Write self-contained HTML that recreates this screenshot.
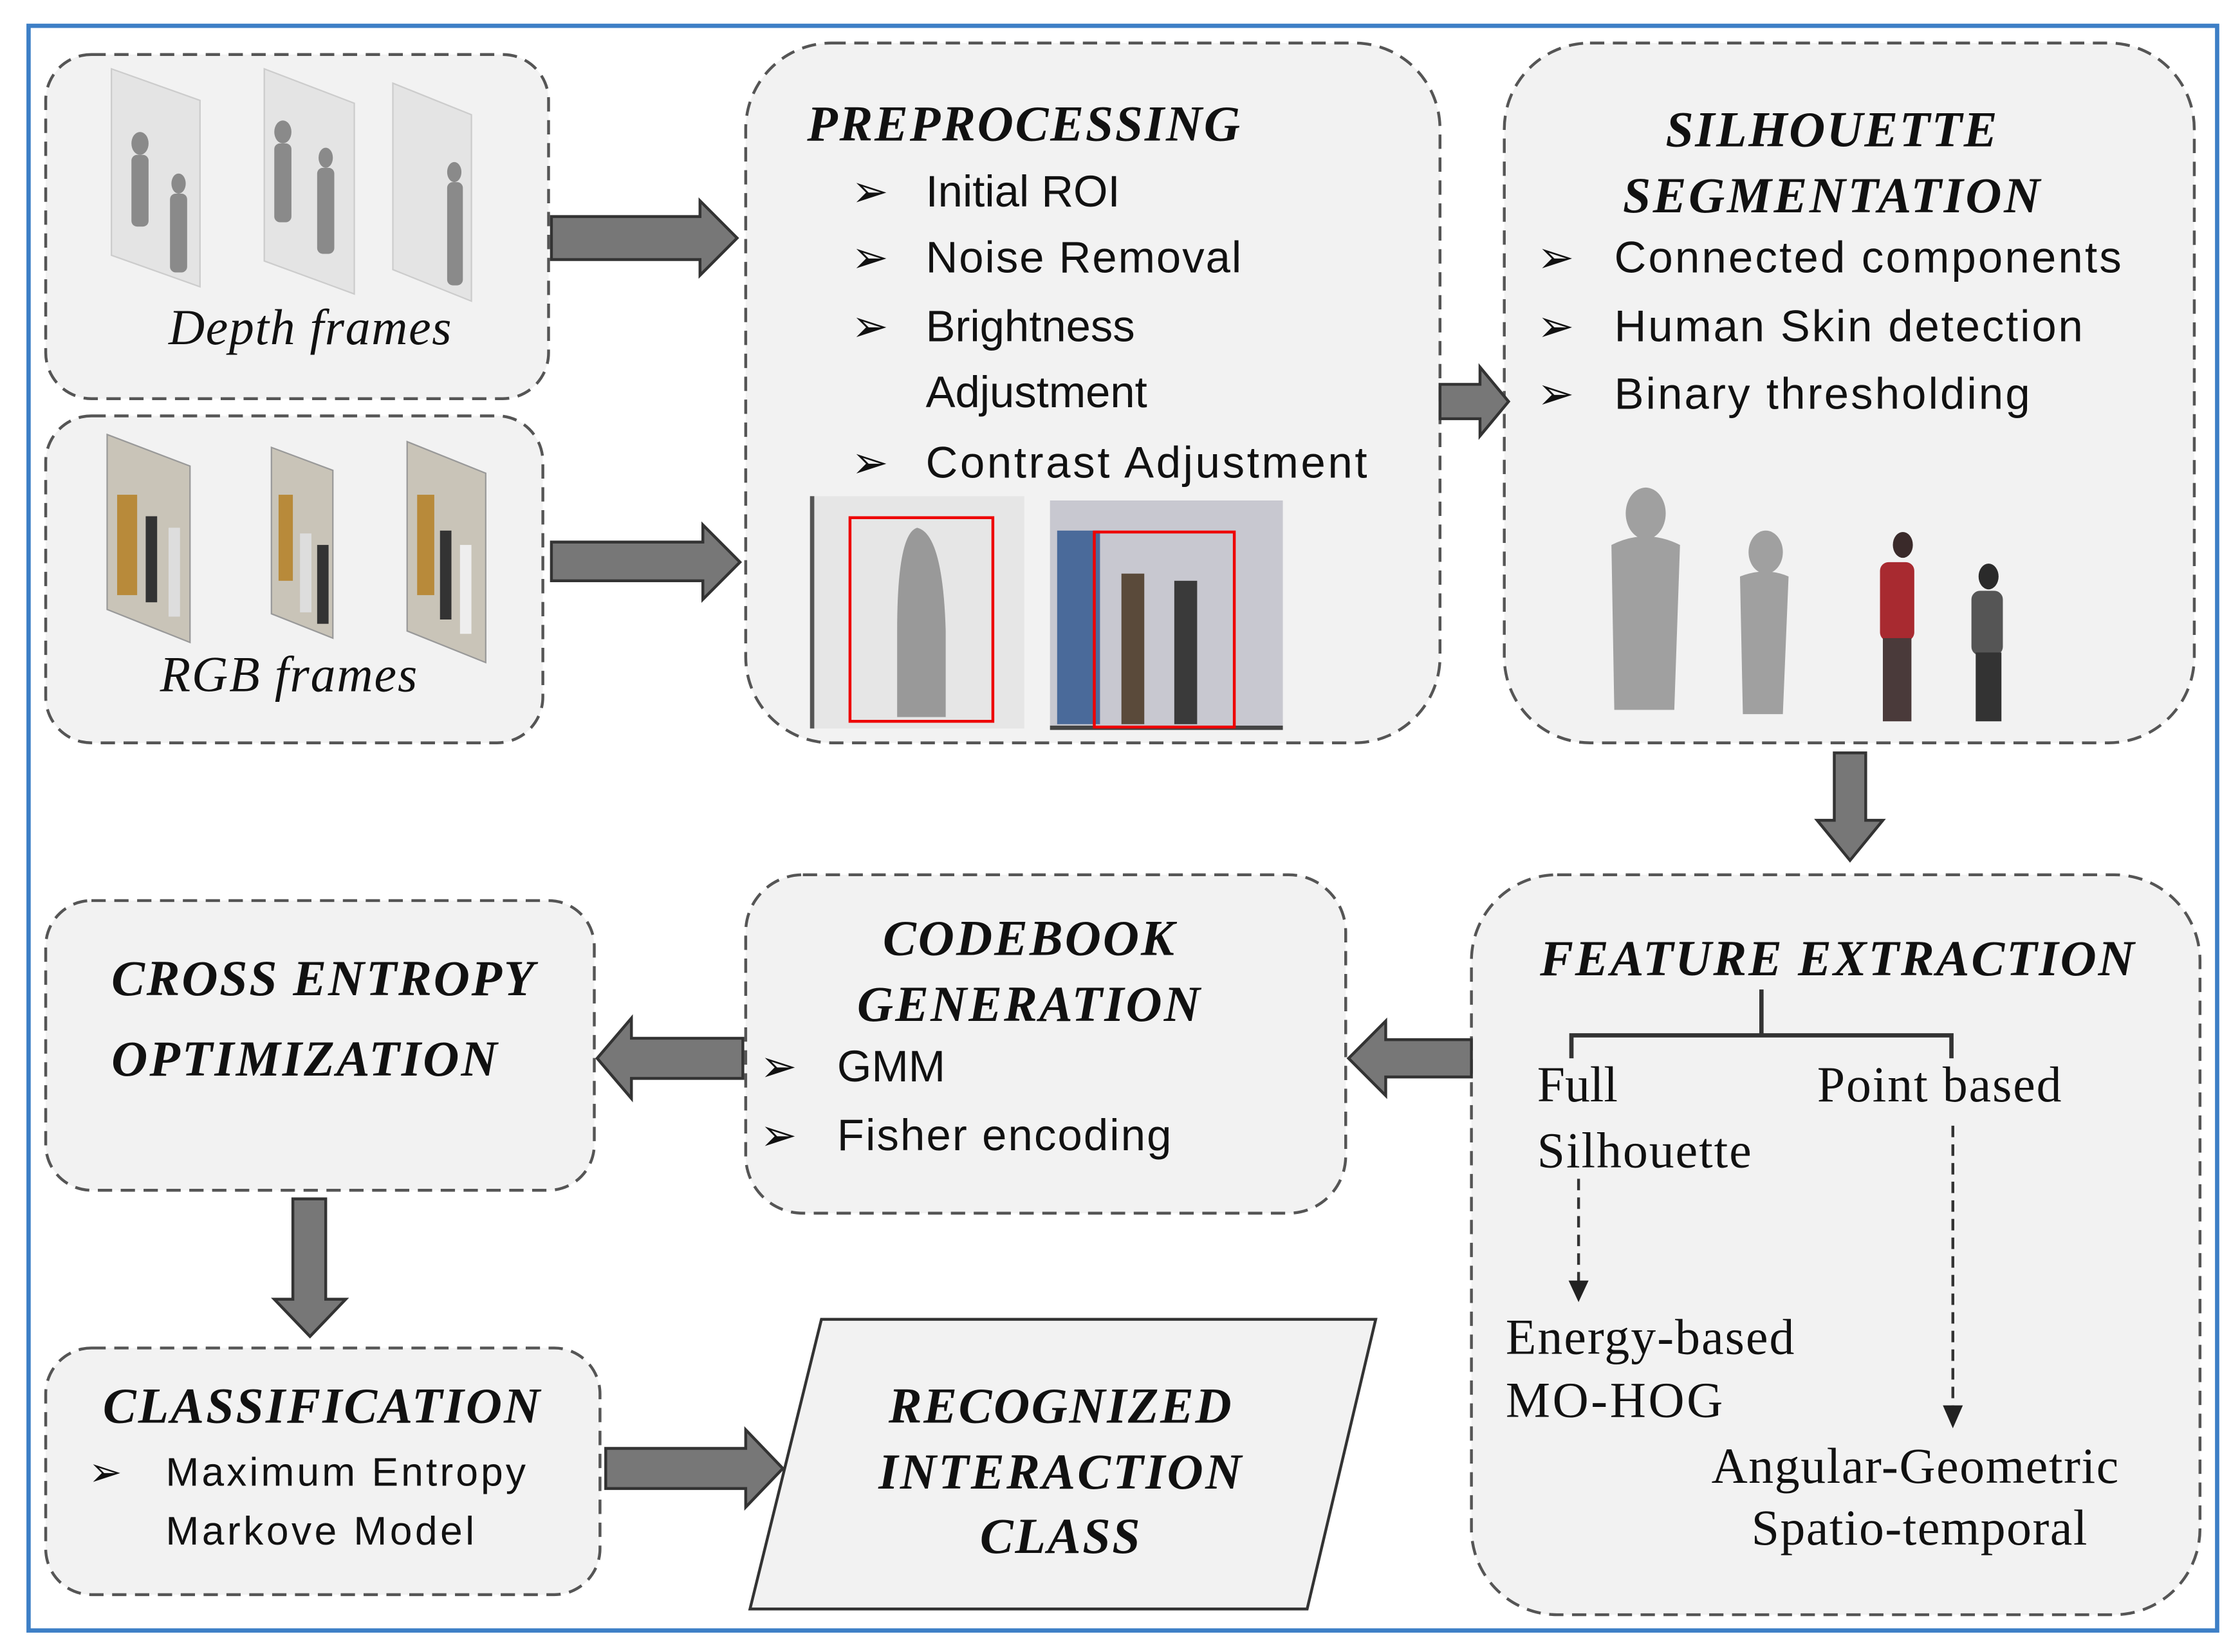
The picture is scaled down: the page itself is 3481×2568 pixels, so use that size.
<!DOCTYPE html>
<html><head><meta charset="utf-8"><style>
html,body{margin:0;padding:0;background:#fff;}
svg{display:block;}
.t{font-family:"Liberation Serif",serif;font-weight:bold;font-style:italic;font-size:35px;fill:#111;}
.b{font-family:"Liberation Sans",sans-serif;font-size:31px;fill:#111;}
.s{font-family:"Liberation Serif",serif;font-size:35px;fill:#111;}
.box{fill:#f2f2f2;stroke:#555;stroke-width:2;stroke-dasharray:10,6;}
.arr{fill:#777;stroke:#333;stroke-width:2;}
</style></head><body>
<svg width="3481" height="2568" viewBox="0 0 1568 1152" preserveAspectRatio="none" xmlns="http://www.w3.org/2000/svg">
<rect x="0" y="0" width="1568" height="1152" fill="#fff"/>
<rect x="20" y="18" width="1532" height="1119" fill="#fff" stroke="#3d7fc6" stroke-width="3"/>

<rect class="box" x="32" y="38" width="352" height="240" rx="32"/>
<rect class="box" x="32" y="290" width="348" height="228" rx="32"/>
<rect class="box" x="522" y="30" width="486" height="488" rx="60"/>
<rect class="box" x="1053" y="30" width="483" height="488" rx="60"/>
<rect class="box" x="1030" y="610" width="510" height="516" rx="60"/>
<rect class="box" x="522" y="610" width="420" height="236" rx="40"/>
<rect class="box" x="32" y="628" width="384" height="202" rx="32"/>
<rect class="box" x="32" y="940" width="388" height="172" rx="32"/>
<polygon points="575,920 963,920 915,1122 525,1122" fill="#f2f2f2" stroke="#333" stroke-width="2"/>

<g fill="#e4e4e4" stroke="#ccc">
<polygon points="78,48 140,70 140,200 78,178"/>
<polygon points="185,48 248,72 248,205 185,182"/>
<polygon points="275,58 330,80 330,210 275,188"/>
</g>
<g fill="#8a8a8a">
<ellipse cx="98" cy="100" rx="6" ry="8"/><rect x="92" y="108" width="12" height="50" rx="4"/>
<ellipse cx="125" cy="128" rx="5" ry="7"/><rect x="119" y="135" width="12" height="55" rx="4"/>
<ellipse cx="198" cy="92" rx="6" ry="8"/><rect x="192" y="100" width="12" height="55" rx="4"/>
<ellipse cx="228" cy="110" rx="5" ry="7"/><rect x="222" y="117" width="12" height="60" rx="4"/>
<ellipse cx="318" cy="120" rx="5" ry="7"/><rect x="313" y="127" width="11" height="72" rx="4"/>
</g>
<text class="s" x="118" y="240" font-style="italic" textLength="198">Depth frames</text>

<g>
<polygon points="75,303 133,325 133,448 75,425" fill="#c9c4b8" stroke="#999"/>
<rect x="82" y="345" width="14" height="70" fill="#b88a3a"/>
<rect x="102" y="360" width="8" height="60" fill="#333"/><rect x="118" y="368" width="8" height="62" fill="#ddd"/>
<polygon points="190,312 233,328 233,445 190,428" fill="#c9c4b8" stroke="#999"/>
<rect x="195" y="345" width="10" height="60" fill="#b88a3a"/>
<rect x="210" y="372" width="8" height="55" fill="#ddd"/><rect x="222" y="380" width="8" height="55" fill="#333"/>
<polygon points="285,308 340,330 340,462 285,440" fill="#c9c4b8" stroke="#999"/>
<rect x="292" y="345" width="12" height="70" fill="#b88a3a"/>
<rect x="308" y="370" width="8" height="62" fill="#333"/><rect x="322" y="380" width="8" height="62" fill="#eee"/>
</g>
<text class="s" x="112" y="482" font-style="italic" textLength="180">RGB frames</text>

<text class="t" x="565" y="98" textLength="303">PREPROCESSING</text>
<g class="b">
<text x="596" y="144">➢</text><text x="648" y="144">Initial ROI</text>
<text x="596" y="190">➢</text><text x="648" y="190" textLength="221">Noise Removal</text>
<text x="596" y="238">➢</text><text x="648" y="238">Brightness</text>
<text x="648" y="284">Adjustment</text>
<text x="596" y="333">➢</text><text x="648" y="333" textLength="309">Contrast Adjustment</text>
</g>
<rect x="567" y="346" width="150" height="162" fill="#e6e6e6"/>
<rect x="567" y="346" width="3" height="162" fill="#555"/>
<path d="M628,440 Q628,372 642,368 Q660,372 662,440 L662,500 L628,500Z" fill="#999"/>
<rect x="595" y="361" width="100" height="142" fill="none" stroke="#e00" stroke-width="2"/>
<rect x="735" y="349" width="163" height="160" fill="#c8c8d0"/>
<rect x="740" y="370" width="30" height="135" fill="#4a6a9a"/>
<rect x="785" y="400" width="16" height="105" fill="#5a4a3a"/>
<rect x="822" y="405" width="16" height="100" fill="#3a3a3a"/>
<rect x="735" y="506" width="163" height="3" fill="#444"/>
<rect x="766" y="371" width="98" height="136" fill="none" stroke="#e00" stroke-width="2"/>

<text class="t" x="1282" y="102" text-anchor="middle" textLength="232">SILHOUETTE</text>
<text class="t" x="1282" y="148" text-anchor="middle" textLength="292">SEGMENTATION</text>
<g class="b">
<text x="1076" y="190">➢</text><text x="1130" y="190" textLength="355">Connected components</text>
<text x="1076" y="238">➢</text><text x="1130" y="238" textLength="328">Human Skin detection</text>
<text x="1076" y="285">➢</text><text x="1130" y="285" textLength="291">Binary thresholding</text>
</g>
<g fill="#a0a0a0">
<ellipse cx="1152" cy="358" rx="14" ry="18"/><path d="M1128,380 Q1152,368 1176,380 L1172,495 L1130,495Z"/>
<ellipse cx="1236" cy="385" rx="12" ry="15"/><path d="M1218,402 Q1236,395 1252,402 L1248,498 L1220,498Z"/>
</g>
<ellipse cx="1332" cy="380" rx="7" ry="9" fill="#3a2a2a"/>
<rect x="1316" y="392" width="24" height="55" rx="6" fill="#a82a30"/>
<rect x="1318" y="445" width="20" height="58" fill="#4a3a3a"/>
<ellipse cx="1392" cy="402" rx="7" ry="9" fill="#2a2a2a"/>
<rect x="1380" y="412" width="22" height="45" rx="6" fill="#555"/>
<rect x="1383" y="455" width="18" height="48" fill="#333"/>

<text class="t" x="1078" y="680" textLength="416">FEATURE EXTRACTION</text>
<path d="M1233,690 V722 M1100,738 V722 H1366 V738" fill="none" stroke="#333" stroke-width="3"/>
<text class="s" x="1076" y="768">Full</text>
<text class="s" x="1076" y="814" textLength="150">Silhouette</text>
<text class="s" x="1272" y="768" textLength="171">Point based</text>
<path d="M1105,822 V895" stroke="#333" stroke-width="2" stroke-dasharray="8,5"/>
<polygon points="1098,893 1112,893 1105,908" fill="#222"/>
<path d="M1367,785 V982" stroke="#333" stroke-width="2" stroke-dasharray="8,5"/>
<polygon points="1360,980 1374,980 1367,996" fill="#222"/>
<text class="s" x="1054" y="944" textLength="202">Energy-based</text>
<text class="s" x="1054" y="988" textLength="152">MO-HOG</text>
<text class="s" x="1198" y="1034" textLength="285">Angular-Geometric</text>
<text class="s" x="1226" y="1077" textLength="235">Spatio-temporal</text>

<text class="t" x="720" y="666" text-anchor="middle" textLength="204">CODEBOOK</text>
<text class="t" x="720" y="712" text-anchor="middle" textLength="240">GENERATION</text>
<g class="b">
<text x="532" y="754">➢</text><text x="586" y="754">GMM</text>
<text x="532" y="802">➢</text><text x="586" y="802" textLength="234">Fisher encoding</text>
</g>

<text class="t" x="78" y="694" textLength="296">CROSS ENTROPY</text>
<text class="t" x="78" y="750" textLength="270">OPTIMIZATION</text>

<text class="t" x="225" y="992" text-anchor="middle" textLength="306">CLASSIFICATION</text>
<g class="b" style="font-size:28px">
<text x="62" y="1036">➢</text><text x="116" y="1036" textLength="252">Maximum Entropy</text>
<text x="116" y="1077" textLength="216">Markove Model</text>
</g>

<text class="t" x="742" y="992" text-anchor="middle" textLength="240">RECOGNIZED</text>
<text class="t" x="742" y="1038" text-anchor="middle" textLength="254">INTERACTION</text>
<text class="t" x="742" y="1083" text-anchor="middle" textLength="112">CLASS</text>

<polygon class="arr" points="386,151 490,151 490,140 516,166 490,192 490,181 386,181"/>
<polygon class="arr" points="386,378 492,378 492,366 518,392 492,418 492,405 386,405"/>
<polygon class="arr" points="1008,268 1036,268 1036,256 1056,280 1036,304 1036,292 1008,292"/>
<polygon class="arr" points="1284,525 1306,525 1306,572 1318,572 1295,600 1272,572 1284,572"/>
<polygon class="arr" points="1030,725 970,725 970,712 944,738 970,764 970,751 1030,751"/>
<polygon class="arr" points="520,724 442,724 442,710 418,738 442,766 442,752 520,752"/>
<polygon class="arr" points="205,836 228,836 228,906 242,906 217,932 192,906 205,906"/>
<polygon class="arr" points="424,1010 522,1010 522,997 548,1024 522,1051 522,1038 424,1038"/>
</svg>
</body></html>
